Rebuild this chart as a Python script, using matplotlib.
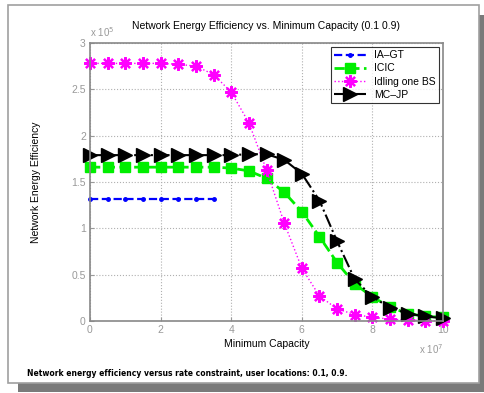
import matplotlib
matplotlib.use("Agg")
import matplotlib.pyplot as plt
from matplotlib.patches import Rectangle

plt.rcParams['font.family'] = ['Liberation Sans', 'DejaVu Sans']

# capacity in units of 1e7, efficiency in units of 1e5
capacity = [0, 0.5, 1, 1.5, 2, 2.5, 3, 3.5, 4, 4.5, 5, 5.5, 6, 6.5, 7, 7.5, 8, 8.5, 9, 9.5, 10]
ia_gt_x = [0, 0.5, 1, 1.5, 2, 2.5, 3, 3.5]
ia_gt = [1.32, 1.32, 1.32, 1.32, 1.32, 1.32, 1.32, 1.32]
icic = [1.66, 1.66, 1.66, 1.66, 1.66, 1.66, 1.66, 1.66, 1.65, 1.62, 1.54, 1.39, 1.18, 0.91,
        0.63, 0.40, 0.26, 0.15, 0.08, 0.05, 0.04]
idling = [2.78, 2.78, 2.78, 2.78, 2.78, 2.77, 2.75, 2.66, 2.47, 2.14, 1.63, 1.06, 0.57, 0.27,
          0.13, 0.07, 0.04, 0.02, 0.01, 0.005, 0.0]
mc_jp = [1.79, 1.79, 1.79, 1.79, 1.79, 1.79, 1.79, 1.79, 1.79, 1.80, 1.80, 1.74, 1.59, 1.30,
         0.86, 0.45, 0.26, 0.145, 0.08, 0.05, 0.03]

xticks = [0, 2, 4, 6, 8, 10]
yticks = [0, 0.5, 1, 1.5, 2, 2.5, 3]

fig = plt.figure(figsize=(4.85, 3.93), dpi=100)

# card with drop shadow
fig.patches.append(Rectangle((18/485, 1/393), 467/485, 377/393, transform=fig.transFigure,
                             facecolor='#7a7a7a', edgecolor='none', zorder=0))
fig.patches.append(Rectangle((8/485, 10/393), 471/485, 378/393, transform=fig.transFigure,
                             facecolor='white', edgecolor='#a0a0a0', linewidth=1.2, zorder=1))

ax = fig.add_axes([90/485, 72/393, 353/485, 278/393])
ax.set_zorder(2)

asterisk = (8, 2, 0)
ax.plot(ia_gt_x, ia_gt, color='#0000ff', linestyle='--', linewidth=1.6, marker='.',
        markersize=5, label='IA\u2013GT', clip_on=False)
ax.plot(capacity, icic, color='#00ee00', linestyle='--', linewidth=2, marker='s',
        markersize=7.5, markeredgecolor='#00ee00', label='ICIC', clip_on=False)
ax.plot(capacity, idling, color='#ff00ff', linestyle=':', linewidth=1, marker=asterisk,
        markersize=9, markeredgewidth=1.6, label='Idling one BS', clip_on=False)
ax.plot(capacity, mc_jp, color='black', linestyle='-.', linewidth=1.5, marker='>',
        markersize=10, label='MC\u2013JP', clip_on=False)

ax.set_xlim(0, 10)
ax.set_ylim(0, 3)
ax.set_xticks(xticks)
ax.set_yticks(yticks)
ax.set_xticklabels([f'{t:g}' for t in xticks])
ax.set_yticklabels([f'{t:g}' for t in yticks])
ax.grid(True, linestyle=':', color='#b0b0b0', linewidth=0.8)
ax.tick_params(direction='in', colors='#999999', labelsize=7.5, length=3, pad=3)
for s in ax.spines.values():
    s.set_color('#888888')
    s.set_linewidth(1.2)

ax.set_title('Network Energy Efficiency vs. Minimum Capacity (0.1 0.9)', fontsize=7.5, pad=10)
ax.set_xlabel('Minimum Capacity', fontsize=7.5, labelpad=3)
ax.set_ylabel('Network Energy Efficiency', fontsize=7.5, labelpad=22)
ax.text(0, 1.015, r'x 10$^{5}$', transform=ax.transAxes, fontsize=7, color='#999999',
        ha='left', va='bottom')
ax.text(1.0, -0.075, r'x 10$^{7}$', transform=ax.transAxes, fontsize=7, color='#999999',
        ha='right', va='top')

leg = ax.legend(loc='upper right', fontsize=7.5, frameon=True, fancybox=False,
                edgecolor='black', handlelength=3, borderaxespad=0.35, labelspacing=0.3,
                borderpad=0.35)
leg.get_frame().set_linewidth(0.8)
leg.set_zorder(5)

fig.text(27/485, 1 - 373/393, 'Network energy efficiency versus rate constraint, user locations: 0.1, 0.9.',
         fontsize=5.5, fontweight='bold', family='DejaVu Sans', va='center', ha='left')

fig.savefig('out.png', dpi=100)
